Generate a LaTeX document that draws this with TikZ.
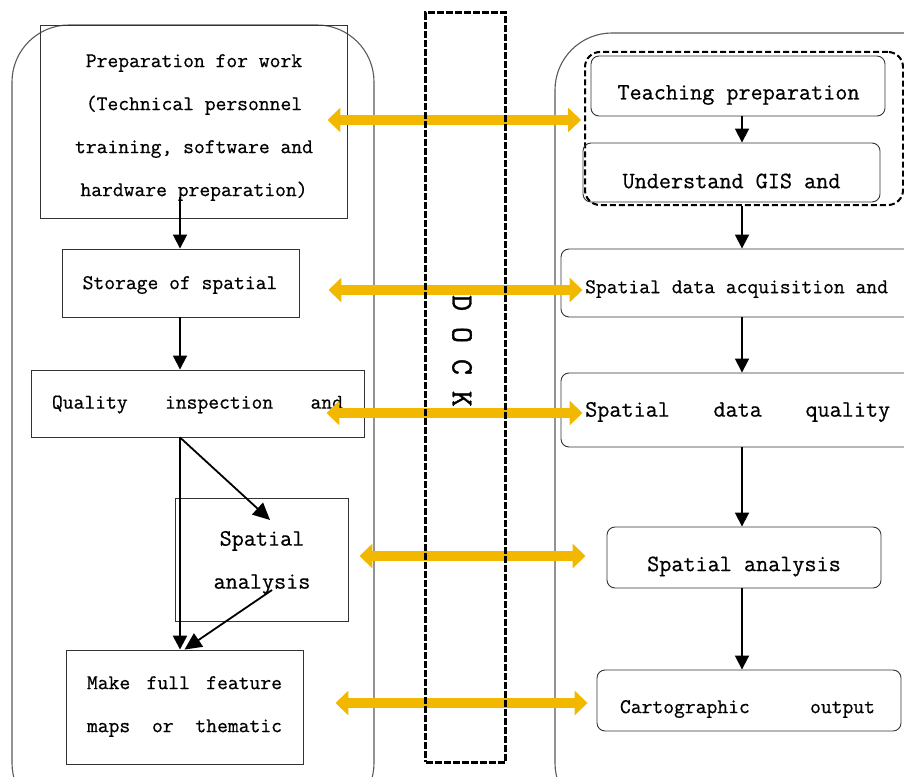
\documentclass[tikz,border=0pt]{standalone}
\usepackage{fontspec}
\setmonofont{Latin Modern Mono}[FakeBold=0.6]
\newfontfamily\dockfont{Latin Modern Mono}[FakeBold=1.2]
\usetikzlibrary{arrows.meta,calc}
\definecolor{gold}{RGB}{242,184,0}
\begin{document}
\begin{tikzpicture}[x=1pt,y=-1pt,
  box/.style={draw=black!80, line width=0.9pt, inner sep=0pt, rectangle},
  rbox/.style={box, rounded corners=8pt},
  cont/.style={draw=black!65, line width=1.1pt, inner sep=0pt, rectangle, rounded corners=57pt},
  txs/.style={font=\ttfamily\fontsize{21}{43}\selectfont, align=center, inner sep=0pt},
  txl/.style={font=\ttfamily\fontsize{23.5}{43}\selectfont, align=center, inner sep=0pt},
  arr/.style={line width=1.8pt, -{Triangle[length=14pt,width=14pt]}},
  yarr/.style={draw=gold, line width=10pt, {Triangle[length=13pt,width=24pt]}-{Triangle[length=13pt,width=24pt]}}
]
\useasboundingbox (0,0) rectangle (904,776);
\clip (0,0) rectangle (904,776);

% containers
\node[cont, minimum width=362pt, minimum height=795pt] (lcont) at (193,422.5) {};
\node[cont, minimum width=405pt, minimum height=787pt] (rcont) at (757.5,426.5) {};

% left boxes
\node[box, minimum width=307pt, minimum height=193pt] (prep) at (193.5,121.5) {};
\node[txs] (prepT) at (194,127.5) {Preparation for work\\(Technical personnel\\training, software and\\hardware preparation)};
\node[box, minimum width=237pt, minimum height=68pt] (sto) at (180.5,283) {};
\node[txs] (stoT) at (180,285) {Storage of spatial};
\node[box, minimum width=333pt, minimum height=67pt] (qual) at (197.5,403.5) {};
\node[txs] (qualT) at (197.5,404.5) {\makebox[291pt]{Quality\hfill inspection\hfill and}};
\node[box, minimum width=173pt, minimum height=123pt] (sal) at (261.5,559.5) {};
\node[txl] (salT) at (262,562.5) {Spatial\\analysis};
\node[box, minimum width=237pt, minimum height=114pt] (make) at (184.5,707) {};
\node[txs] (makeT) at (184.5,706.5) {\makebox[195pt]{Make\hfill full\hfill feature}\\\makebox[195pt]{maps\hfill or\hfill thematic}};

% right boxes
\node[draw=black, line width=2pt, dash pattern=on 6pt off 3pt, rounded corners=15pt, inner sep=0pt, minimum width=318pt, minimum height=153pt] (grp) at (744,128.5) {};
\node[rbox, minimum width=294pt, minimum height=60pt] (teach) at (738,86) {};
\node[txl] (teachT) at (738.5,95) {Teaching preparation};
\node[rbox, minimum width=297pt, minimum height=59pt] (und) at (731.5,172.5) {};
\node[txl] (undT) at (731.5,181) {Understand GIS and};
\node[rbox, minimum width=400pt, minimum height=68pt] (acq) at (761,283) {};
\node[txs, anchor=west] (acqT) at (585,289) {Spatial data acquisition and};
\node[rbox, minimum width=400pt, minimum height=74pt] (qr) at (761,410) {};
\node[txl, anchor=west] (qrT) at (585,412) {\makebox[305pt]{Spatial\hfill data\hfill quality}};
\node[rbox, minimum width=274pt, minimum height=61pt] (sar) at (744,557.5) {};
\node[txl] (sarT) at (744,566.5) {Spatial analysis};
\node[rbox, minimum width=304pt, minimum height=61pt] (cart) at (749,700.5) {};
\node[txs] (cartT) at (747.5,709) {\makebox[255pt]{Cartographic\hfill output}};

% black arrows
\coordinate (lx) at (180,0);
\coordinate (rx) at (742,0);
\coordinate (pstart) at (180,197);
\coordinate (satip) at (270,520);
\coordinate (sastart) at (272,590);
\draw[arr] (pstart) -- (sto.north -| lx);
\draw[arr] (sto.south -| lx) -- (qual.north -| lx);
\draw[arr, line width=2.4pt] (qual.south -| lx) -- (make.north -| lx);
\draw[arr, -{Triangle[length=17pt,width=16pt]}] (qual.south -| lx) -- (satip);
\draw[arr, -{Triangle[length=17pt,width=16pt]}] (sastart) -- (make.north);
\draw[arr] (teach.south -| rx) -- (und.north -| rx);
\draw[arr] (grp.south -| rx) -- (acq.north -| rx);
\draw[arr] (acq.south -| rx) -- (qr.north -| rx);
\draw[arr] (qr.south -| rx) -- (sar.north -| rx);
\draw[arr] (sar.south -| rx) -- (cart.north -| rx);

% yellow double arrows
\draw[yarr] ([shift={(-20,-1.5)}]prep.east) -- ([shift={(-3,-8.5)}]grp.west);
\draw[yarr] ([shift={(29,7)}]sto.east) -- ([shift={(22,7)}]acq.west);
\draw[yarr] ([shift={(-38,9.5)}]qual.east) -- ([shift={(22,3)}]qr.west);
\draw[yarr] ([shift={(11,-3.5)}]sal.east) -- ([shift={(-21,-1.5)}]sar.west);
\draw[yarr] ([shift={(32,-4)}]make.east) -- ([shift={(-9,2.5)}]cart.west);

% DOCK strip
\node[draw=black, line width=3pt, dash pattern=on 7pt off 2pt, inner sep=0pt, minimum width=80pt, minimum height=749pt] (dock) at (465.5,387.5) {};
\node[font=\dockfont\fontsize{31}{33}\selectfont, rotate=-90, inner sep=0pt] (dockT) at (462,351) {D O C K};
\end{tikzpicture}
\end{document}
